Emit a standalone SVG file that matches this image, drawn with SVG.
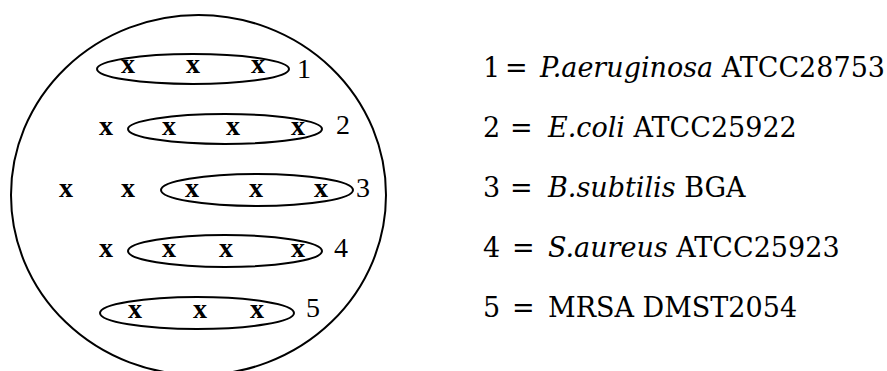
<svg xmlns="http://www.w3.org/2000/svg" width="887" height="371" viewBox="0 0 887 371">
<style>
.ln{fill:none;stroke:#000;stroke-width:2}
.x{font-family:"Liberation Serif",serif;font-size:28px;font-weight:bold;text-anchor:middle;fill:#000}
.n{font-family:"Liberation Serif",serif;font-size:28px;fill:#000}
.lg{font-family:"DejaVu Serif",serif;font-size:27px;fill:#000}
.i{font-style:italic}
</style>
<rect width="887" height="371" fill="#fff"/>
<g id="plate"><ellipse class="ln" cx="198.5" cy="195" rx="187.5" ry="180"/></g>
<g id="row1">
<ellipse class="ln" cx="193" cy="69" rx="96" ry="15"/>
<text class="x" x="128" y="73">x</text><text class="x" x="193" y="73">x</text><text class="x" x="258" y="73">x</text>
<text class="n" x="297" y="78">1</text>
</g>
<g id="row2">
<ellipse class="ln" cx="225" cy="129" rx="97" ry="15"/>
<text class="x" x="106" y="135">x</text><text class="x" x="169" y="135">x</text><text class="x" x="233" y="135">x</text><text class="x" x="298" y="135">x</text>
<text class="n" x="336" y="134">2</text>
</g>
<g id="row3">
<ellipse class="ln" cx="257" cy="190" rx="96" ry="16"/>
<text class="x" x="66" y="197">x</text><text class="x" x="128" y="197">x</text><text class="x" x="192" y="197">x</text><text class="x" x="256" y="197">x</text><text class="x" x="321" y="197">x</text>
<text class="n" x="356" y="197">3</text>
</g>
<g id="row4">
<ellipse class="ln" cx="225" cy="251" rx="97" ry="16"/>
<text class="x" x="106" y="257">x</text><text class="x" x="169" y="257">x</text><text class="x" x="226" y="257">x</text><text class="x" x="298" y="257">x</text>
<text class="n" x="334" y="257">4</text>
</g>
<g id="row5">
<ellipse class="ln" cx="197" cy="313" rx="97" ry="16"/>
<text class="x" x="135" y="318">x</text><text class="x" x="200" y="318">x</text><text class="x" x="257" y="318">x</text>
<text class="n" x="306" y="317">5</text>
</g>
<g id="legend">
<text class="lg" y="77"><tspan x="483">1</tspan> <tspan x="505">=</tspan> <tspan x="540" class="i">P.aeruginosa</tspan> ATCC28753</text>
<text class="lg" y="137"><tspan x="483">2</tspan> <tspan x="510">=</tspan> <tspan x="548" class="i">E.coli</tspan> ATCC25922</text>
<text class="lg" y="197"><tspan x="483">3</tspan> <tspan x="510">=</tspan> <tspan x="548" class="i">B.subtilis</tspan> BGA</text>
<text class="lg" y="257"><tspan x="483">4</tspan> <tspan x="512">=</tspan> <tspan x="548" class="i">S.aureus</tspan> ATCC25923</text>
<text class="lg" y="317"><tspan x="483">5</tspan> <tspan x="512">=</tspan> <tspan x="548">MRSA</tspan> DMST2054</text>
</g>
</svg>
